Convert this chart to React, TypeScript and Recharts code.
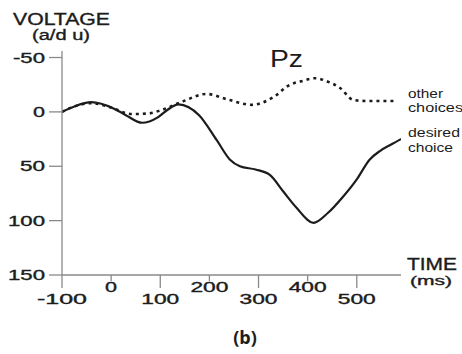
import React from "react";
import { LineChart, Line, XAxis, YAxis } from "recharts";

const desiredTime = [-100, -75, -41, 6, 30, 63, 95, 115, 137, 179, 215, 242, 262, 294, 323, 350, 377, 412, 441, 472, 500, 526, 547, 570, 590];
const desiredVolt = [0, -5, -9, -3, 3, 10, 5, -2, -7, 3, 26, 44, 50, 53, 58, 73, 88, 102, 93, 78, 62, 44, 36, 30, 25];

const otherTime = [-100, -75, -40, 0, 41, 77, 101, 145, 194, 240, 287, 330, 364, 390, 415, 440, 466, 493, 520, 579];
const otherVolt = [0, -5, -8, -4, 2, 1.4, -1.5, -9.5, -16.5, -11, -6.5, -13.5, -25, -28.5, -31, -28, -22, -11, -10, -10];

const timeTicks = [-100, 0, 100, 200, 300, 400, 500];
const voltTicks = [-50, 0, 50, 100, 150];

const desiredData = desiredTime.map((t, i) => ({ t, v: desiredVolt[i] }));
const otherData = otherTime.map((t, i) => ({ t, v: otherVolt[i] }));

const FONT = "'Liberation Sans', Arial, sans-serif";
const AXIS = "#8a8a8a";
const INK = "#1c1c1c";

const labelLen = (s: string) => (s.length === 1 ? 12 : s.length === 2 ? 25 : s.length === 3 ? (s.startsWith("-") ? 32 : 38) : 50);

const XTick = (props: any) => {
  const { x, y, payload, index } = props;
  const low = index % 2 === 0;
  const label = String(payload.value);
  return (
    <g>
      <line x1={x} x2={x} y1={y} y2={y + (low ? 13 : 6)} stroke={AXIS} strokeWidth={1.3} />
      <text
        x={x}
        y={y + (low ? 29 : 17)}
        textAnchor="middle"
        fontSize={14}
        fontFamily={FONT}
        fill={INK}
        stroke={INK}
        strokeWidth={0.35}
        textLength={labelLen(label)}
        lengthAdjust="spacingAndGlyphs"
      >
        {label}
      </text>
    </g>
  );
};

const YTick = (props: any) => {
  const { x, y, payload } = props;
  const label = String(payload.value);
  return (
    <g>
      <line x1={x - 13} x2={x} y1={y} y2={y} stroke={AXIS} strokeWidth={1.3} />
      <text
        x={x - 17}
        y={y + 5}
        textAnchor="end"
        fontSize={14}
        fontFamily={FONT}
        fill={INK}
        stroke={INK}
        strokeWidth={0.35}
        textLength={label.length === 3 && !label.startsWith("-") ? 37 : labelLen(label)}
        lengthAdjust="spacingAndGlyphs"
      >
        {label}
      </text>
    </g>
  );
};

const T = (p: any) => (
  <text
    x={p.x}
    y={p.y}
    fontSize={p.size}
    fontFamily={p.family || FONT}
    fontWeight={p.weight || "normal"}
    fill={INK}
    stroke={p.thick ? INK : undefined}
    strokeWidth={p.thick ? 0.35 : undefined}
    textAnchor={p.anchor || "start"}
    textLength={p.len}
    lengthAdjust={p.len ? "spacingAndGlyphs" : undefined}
  >
    {p.children}
  </text>
);

export default function App() {
  return (
    <div style={{ position: "absolute", left: 0, top: 0, width: 462, height: 354, background: "#fff" }}>
      <LineChart width={462} height={354} margin={{ top: 51, right: 61, bottom: 49, left: 8 }}>
        <XAxis
          type="number"
          dataKey="t"
          domain={[-100, 590]}
          ticks={timeTicks}
          interval={0}
          allowDataOverflow
          height={30}
          tickSize={0}
          tickMargin={0}
          tickLine={false}
          axisLine={{ stroke: AXIS, strokeWidth: 1.3 }}
          tick={<XTick />}
        />
        <YAxis
          type="number"
          dataKey="v"
          domain={[-56, 150]}
          reversed
          ticks={voltTicks}
          interval={0}
          allowDataOverflow
          width={54}
          tickSize={0}
          tickMargin={0}
          tickLine={false}
          axisLine={{ stroke: AXIS, strokeWidth: 1.3 }}
          tick={<YTick />}
        />
        <Line
          data={otherData}
          dataKey="v"
          type="monotone"
          stroke={INK}
          strokeWidth={2.6}
          strokeDasharray="3 4"
          dot={false}
          isAnimationActive={false}
        />
        <Line
          data={desiredData}
          dataKey="v"
          type="monotone"
          stroke={INK}
          strokeWidth={2.2}
          dot={false}
          isAnimationActive={false}
        />
      </LineChart>
      <svg width={462} height={354} style={{ position: "absolute", left: 0, top: 0, pointerEvents: "none" }}>
        <T x={13} y={25} size={16} len={97} thick>VOLTAGE</T>
        <T x={32} y={40} size={14} len={58} thick>(a/d u)</T>
        <T x={407} y={270} size={16} len={50} thick>TIME</T>
        <T x={410} y={285} size={12.5} len={42} thick>(ms)</T>
        <T x={270} y={67} size={23.5} len={33}>Pz</T>
        <T x={408} y={98} size={12} len={35}>other</T>
        <T x={408} y={112} size={12} len={55}>choices</T>
        <T x={408} y={137} size={12} len={52}>desired</T>
        <T x={408} y={152} size={12} len={45}>choice</T>
        <T x={245} y={344} size={18} anchor="middle" weight="bold" family="'Open Sans', 'Liberation Sans', sans-serif">(b)</T>
      </svg>
    </div>
  );
}
